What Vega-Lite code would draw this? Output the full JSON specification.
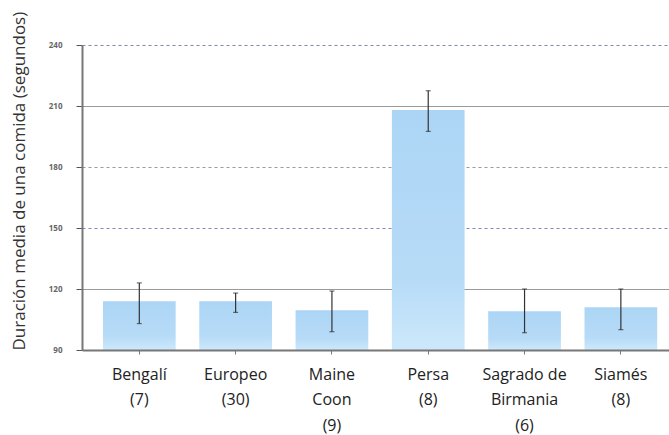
{
  "$schema": "https://vega.github.io/schema/vega-lite/v6.json",
  "width": 587,
  "height": 305,
  "autosize": {"type": "none"},
  "padding": {"left": 82, "top": 45, "right": 0, "bottom": 85},
  "background": "white",
  "config": {
    "view": {"stroke": null},
    "font": "Open Sans"
  },
  "data": {
    "values": [
      {"raza": "Bengalí (7)", "media": 114, "min": 103, "max": 123},
      {"raza": "Europeo (30)", "media": 114, "min": 108.5, "max": 118},
      {"raza": "Maine Coon (9)", "media": 109.5, "min": 99, "max": 119},
      {"raza": "Persa (8)", "media": 208, "min": 197.5, "max": 217.5},
      {"raza": "Sagrado de Birmania (6)", "media": 109, "min": 98.5, "max": 120},
      {"raza": "Siamés (8)", "media": 111, "min": 100, "max": 120}
    ]
  },
  "encoding": {
    "x": {
      "field": "raza",
      "type": "nominal",
      "sort": null,
      "scale": {"paddingInner": 0.245, "paddingOuter": 0.17, "align": 0.64},
      "axis": {
        "title": null,
        "labelAngle": 0,
        "labelFontSize": 16,
        "labelColor": "#222",
        "labelPadding": 12,
        "labelLineHeight": 25.5,
        "labelBaseline": "top",
        "labelOverlap": false,
        "labelExpr": "{'Bengalí (7)': ['Bengalí', '(7)'], 'Europeo (30)': ['Europeo', '(30)'], 'Maine Coon (9)': ['Maine', 'Coon', '(9)'], 'Persa (8)': ['Persa', '(8)'], 'Sagrado de Birmania (6)': ['Sagrado de', 'Birmania', '(6)'], 'Siamés (8)': ['Siamés', '(8)']}[datum.value]",
        "domainColor": "#777",
        "domainWidth": 2,
        "tickColor": "#777",
        "tickSize": 4,
        "labelFlush": false,
        "zindex": 1
      }
    }
  },
  "layer": [
    {
      "mark": {
        "type": "bar",
        "color": {
          "gradient": "linear",
          "x1": 0, "y1": 0, "x2": 0, "y2": 1,
          "stops": [
            {"offset": 0, "color": "#acd5f5"},
            {"offset": 0.7, "color": "#b6dbf7"},
            {"offset": 1, "color": "#cde8fb"}
          ]
        }
      },
      "encoding": {
        "y": {
          "field": "media",
          "type": "quantitative",
          "scale": {"domain": [90, 240], "zero": false, "nice": false},
          "axis": {
            "title": "Duración media de una comida (segundos)",
            "titleFontSize": 17,
            "titleFontWeight": "normal",
            "titleColor": "#333",
            "titleAnchor": "start",
            "titlePadding": 20,
            "values": [90, 120, 150, 180, 210, 240],
            "labelFontSize": 8,
            "labelFontWeight": "bold",
            "labelColor": "#666",
            "labelPadding": 14,
            "tickSize": 6,
            "tickColor": "#555",
            "domainColor": "#777",
            "domainWidth": 2,
            "grid": true,
            "gridColor": {"condition": {"test": "datum.value === 240 || datum.value === 150", "value": "#8088b8"}, "value": "#9a9a9a"},
            "gridDash": {"condition": {"test": "datum.value === 210 || datum.value === 120", "value": []}, "value": [3, 3]},
            "gridWidth": 1.2
          }
        },
        "y2": {"datum": 90}
      }
    },
    {
      "mark": {"type": "rule", "color": "#333", "strokeWidth": 1.2},
      "encoding": {
        "y": {"field": "min", "type": "quantitative"},
        "y2": {"field": "max"}
      }
    },
    {
      "mark": {"type": "tick", "color": "#333", "thickness": 1.2, "size": 5},
      "encoding": {
        "y": {"field": "min", "type": "quantitative"}
      }
    },
    {
      "mark": {"type": "tick", "color": "#333", "thickness": 1.2, "size": 5},
      "encoding": {
        "y": {"field": "max", "type": "quantitative"}
      }
    }
  ]
}
